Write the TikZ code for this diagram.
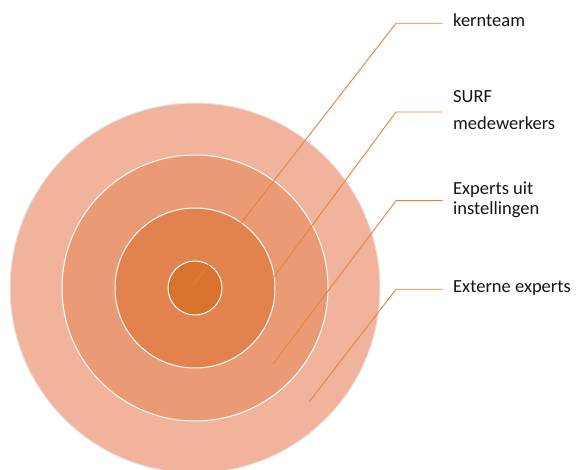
\documentclass[tikz,border=0pt]{standalone}
\usepackage{fontspec}
\setmainfont{Carlito}
\definecolor{mycore}{RGB}{216,114,44}
\definecolor{myinner}{RGB}{226,130,79}
\definecolor{mymiddle}{RGB}{234,155,118}
\definecolor{myouter}{RGB}{242,179,156}
\definecolor{myline}{RGB}{226,130,62}
\definecolor{mytext}{RGB}{20,20,20}

\tikzset{
    ring/.style={circle, draw=white, line width=1pt, inner sep=0pt, outer sep=0pt},
    leader/.style={draw=myline, line width=0.9pt},
    lbl/.style={anchor=base west, inner sep=0pt, align=left, text=mytext},
}

\begin{document}
\begin{tikzpicture}[x=1pt, y=-1pt]
    \useasboundingbox (0,0) rectangle (576,470);
    % The four rings, largest first.
    \node[ring, fill=myouter, draw=gray!20, minimum size=370pt] (outer)  at (195,288) {};
    \node[ring, fill=mymiddle, minimum size=266pt]             (middle) at (195,288) {};
    \node[ring, fill=myinner, minimum size=160pt]              (inner)  at (195,288) {};
    \node[ring, fill=mycore, minimum size=54pt]                (core)   at (195,288) {};

    % Labels on the right (base of a two-line label is its last line).
    \node[lbl, font=\fontsize{18.5}{22}\selectfont] (kern) at (453,27) {kernteam};
    \node[lbl, font=\fontsize{18.5}{27}\selectfont] (surf) at (453,130) {SURF\\medewerkers};
    \node[lbl, font=\fontsize{18.5}{20}\selectfont] (inst) at (453,215) {Experts uit\\instellingen};
    \node[lbl, font=\fontsize{18.5}{22}\selectfont] (extern) at (453,293) {Externe experts};

    % Leader lines: a point in each ring, a bend, then a short run to the label.
    \coordinate (kern-in)    at (193,285);
    \coordinate (kern-bend)  at (396,23.3);
    \coordinate (kern-end)   at (442.7,23.3);
    \coordinate (surf-in)    at (237,327);
    \coordinate (surf-bend)  at (396,112);
    \coordinate (surf-end)   at (442.7,112);
    \coordinate (inst-in)    at (273,364);
    \coordinate (inst-bend)  at (396,200.7);
    \coordinate (inst-end)   at (442.7,200.7);
    \coordinate (extern-in)  at (309,402);
    \coordinate (extern-bend) at (396,289.3);
    \coordinate (extern-end) at (442.7,289.3);

    \draw[leader] (kern-in) -- (kern-bend) -- (kern-end);
    \draw[leader] (surf-in) -- (surf-bend) -- (surf-end);
    \draw[leader] (inst-in) -- (inst-bend) -- (inst-end);
    \draw[leader] (extern-in) -- (extern-bend) -- (extern-end);
\end{tikzpicture}
\end{document}
